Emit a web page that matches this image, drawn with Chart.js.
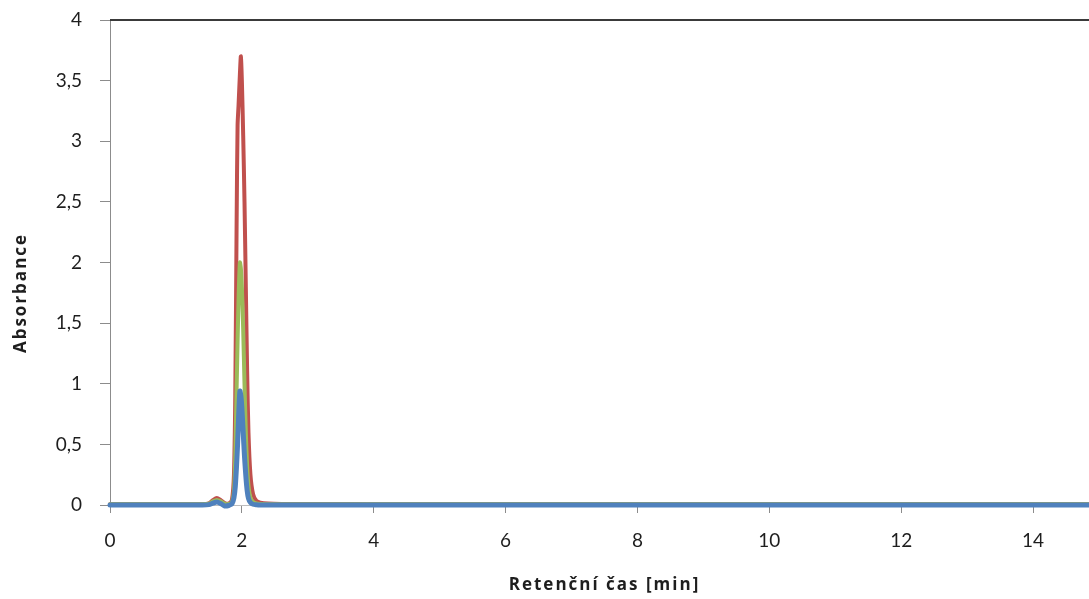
<!DOCTYPE html>
<html>
<head>
<meta charset="utf-8">
<title>Absorbance vs. retenční čas</title>
<script src="https://cdn.jsdelivr.net/npm/chart.js@4.4.1/dist/chart.umd.min.js"></script>
<style>
  html, body { margin: 0; padding: 0; background: #ffffff; overflow: hidden; }
  #wrap { width: 1110px; height: 599px; }
</style>
</head>
<body>
<div id="wrap"><canvas id="chart" width="1110" height="599"></canvas></div>
<script>
// Retention time [min]
const times = [0, 0.5, 1, 1.4, 1.5, 1.56, 1.62, 1.68, 1.74, 1.8, 1.85, 1.88, 1.9, 1.92, 1.935, 1.95, 1.97, 1.985, 2.0, 2.02, 2.04, 2.06, 2.08, 2.1, 2.13, 2.17, 2.22, 2.28, 2.4, 2.6, 3, 4, 5, 6, 7, 8, 9, 10, 11, 12, 13, 14, 15];

// Absorbance of the three recorded traces
const redTrace   = [0.007, 0.007, 0.007, 0.007, 0.014, 0.04, 0.058, 0.04, 0.016, 0.012, 0.045, 0.25, 0.9, 2.3, 3.13, 3.3, 3.55, 3.7, 3.5, 3.05, 2.5, 1.8, 1.1, 0.6, 0.25, 0.09, 0.035, 0.02, 0.012, 0.009, 0.008, 0.007, 0.007, 0.007, 0.007, 0.007, 0.007, 0.007, 0.007, 0.007, 0.007, 0.007, 0.007];
const greenTrace = [0.006, 0.006, 0.006, 0.006, 0.01, 0.03, 0.042, 0.03, 0.01, 0.008, 0.025, 0.12, 0.4, 0.95, 1.35, 1.7, 2.0, 1.95, 1.8, 1.45, 1.0, 0.6, 0.32, 0.16, 0.06, 0.025, 0.012, 0.008, 0.007, 0.006, 0.006, 0.006, 0.006, 0.006, 0.006, 0.006, 0.006, 0.006, 0.006, 0.006, 0.006, 0.006, 0.006];
const blueTrace  = [0, 0, 0, 0, 0.003, 0.015, 0.025, 0.012, -0.008, -0.004, 0.01, 0.06, 0.15, 0.33, 0.5, 0.72, 0.94, 0.9, 0.8, 0.6, 0.4, 0.24, 0.12, 0.055, 0.02, 0.006, 0.002, 0, 0, 0, 0, 0, 0, 0, 0, 0, 0, 0, 0, 0, 0, 0, 0];

// Axis tick labels (decimal comma)
const xTickLabels = ['0', '2', '4', '6', '8', '10', '12', '14'];
const yTickLabels = ['0', '0,5', '1', '1,5', '2', '2,5', '3', '3,5', '4'];

const xTitle = 'Retenční čas [min]';
const yTitle = 'Absorbance';

const toPoints = (ys) => ys.map((y, i) => ({ x: times[i], y }));

// Frame line along the top of the plot area and the two axis titles
const framePlugin = {
  id: 'frame',
  afterDraw(chart) {
    const { ctx, chartArea } = chart;
    ctx.save();
    ctx.strokeStyle = '#3a3a3a';
    ctx.lineWidth = 2;
    ctx.beginPath();
    ctx.moveTo(chartArea.left, chartArea.top);
    ctx.lineTo(chartArea.right, chartArea.top);
    ctx.stroke();

    ctx.fillStyle = '#1e1e1e';
    ctx.font = '700 17px "Open Sans", Lato, sans-serif';
    ctx.letterSpacing = '2px';
    ctx.textAlign = 'center';
    ctx.textBaseline = 'middle';
    ctx.fillText(xTitle, (chartArea.left + chartArea.right) / 2, 585);

    ctx.translate(21, 293);
    ctx.rotate(-Math.PI / 2);
    ctx.fillText(yTitle, 0, 0);
    ctx.restore();
  }
};

new Chart(document.getElementById('chart'), {
  type: 'line',
  data: {
    datasets: [
      { label: 'A', data: toPoints(redTrace),   borderColor: '#C0504D', borderWidth: 4, order: 3, clip: 8 },
      { label: 'B', data: toPoints(greenTrace), borderColor: '#9BBB59', borderWidth: 4, order: 2, clip: 8 },
      { label: 'C', data: toPoints(blueTrace),  borderColor: '#4F81BD', borderWidth: 5, order: 1, clip: 8 }
    ]
  },
  options: {
    responsive: false,
    animation: false,
    elements: {
      point: { radius: 0, hoverRadius: 0 },
      line: { tension: 0.25, fill: false, borderCapStyle: 'round', borderJoinStyle: 'round' }
    },
    layout: { padding: { top: 20, right: 11, bottom: 0, left: 0 } },
    plugins: { legend: { display: false }, tooltip: { enabled: false } },
    scales: {
      x: {
        type: 'linear',
        min: 0,
        max: 15,
        afterBuildTicks(scale) {
          scale.ticks = xTickLabels.map((_, i) => ({ value: i * 2 }));
        },
        afterFit(scale) {
          scale.height = 94;
          scale.paddingLeft = 0;
          scale.paddingRight = 0;
        },
        ticks: {
          padding: 16,
          color: '#1e1e1e',
          font: { family: 'Lato, "Open Sans", sans-serif', size: 19 },
          maxRotation: 0,
          autoSkip: false,
          callback: (v, i) => xTickLabels[i]
        },
        grid: { drawOnChartArea: false, drawTicks: true, tickLength: 8, color: '#8c8c8c', lineWidth: 1 },
        border: { display: true, color: '#bdbdbd', width: 1 }
      },
      y: {
        type: 'linear',
        min: 0,
        max: 4,
        afterBuildTicks(scale) {
          scale.ticks = yTickLabels.map((_, i) => ({ value: i * 0.5 }));
        },
        afterFit(scale) {
          scale.width = 110;
          scale.paddingTop = 0;
          scale.paddingBottom = 0;
        },
        ticks: {
          padding: 18,
          color: '#1e1e1e',
          font: { family: 'Lato, "Open Sans", sans-serif', size: 19 },
          autoSkip: false,
          callback: (v, i) => yTickLabels[i]
        },
        grid: { drawOnChartArea: false, drawTicks: true, tickLength: 10, color: '#8c8c8c', lineWidth: 1 },
        border: { display: true, color: '#8c8c8c', width: 1 }
      }
    }
  },
  plugins: [framePlugin]
});
</script>
</body>
</html>
